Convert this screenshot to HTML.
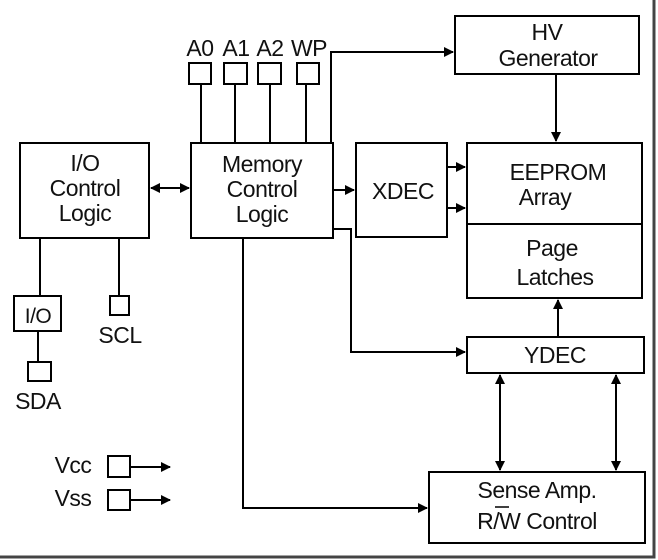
<!DOCTYPE html>
<html><head><style>body{margin:0;background:#fff}svg{display:block}text{font-family:"Liberation Sans",Arial,sans-serif;font-size:23px;fill:#111;text-anchor:middle;letter-spacing:-0.5px}</style></head>
<body>
<svg width="658" height="560" viewBox="0 0 658 560">
<defs><marker id="a" markerWidth="10" markerHeight="10" refX="9" refY="5" orient="auto-start-reverse" markerUnits="userSpaceOnUse"><path d="M0,0 L10,5 L0,10 z" fill="#000"/></marker></defs>
<g fill="none" stroke="#000" stroke-width="2">
<rect x="20" y="143" width="129" height="95"/>
<rect x="191" y="143" width="142" height="95"/>
<rect x="189" y="63" width="22" height="21"/>
<rect x="224" y="63" width="23" height="21"/>
<rect x="258" y="63" width="23" height="21"/>
<rect x="297" y="63" width="22" height="21"/>
<path d="M201 84V143M235 84V143M270 84V143M306 84V143"/>
<path d="M331 143V52H453" marker-end="url(#a)"/>
<rect x="455" y="16" width="184" height="58"/>
<path d="M556 74V141" marker-end="url(#a)"/>
<rect x="356" y="143" width="91" height="94"/>
<rect x="467" y="143" width="175" height="155"/>
<path d="M467 224H642"/>
<path d="M447 167H465" marker-end="url(#a)"/>
<path d="M447 208H465" marker-end="url(#a)"/>
<path d="M151 188H189" marker-start="url(#a)" marker-end="url(#a)"/>
<path d="M334 190H354" marker-end="url(#a)"/>
<path d="M333 229H351V352H465" marker-end="url(#a)"/>
<rect x="467" y="337" width="177" height="36"/>
<path d="M558 337V300" marker-end="url(#a)"/>
<path d="M500 375V470" marker-start="url(#a)" marker-end="url(#a)"/>
<path d="M616 375V470" marker-start="url(#a)" marker-end="url(#a)"/>
<rect x="429" y="472" width="216" height="71"/>
<path d="M243 238V508H427" marker-end="url(#a)"/>
<path d="M40 238V296M119 238V296"/>
<rect x="14" y="296" width="47" height="35"/>
<path d="M38 331V362"/>
<rect x="28" y="362" width="23" height="19"/>
<rect x="110" y="296" width="19" height="19"/>
<rect x="108" y="456" width="22" height="21"/>
<rect x="108" y="490" width="22" height="20"/>
<path d="M130 467H170" marker-end="url(#a)"/>
<path d="M130 500H170" marker-end="url(#a)"/>
</g>
<path d="M0 557H654V0" fill="none" stroke="#444" stroke-width="3"/>
<text x="200" y="56">A0</text><text x="236" y="56">A1</text><text x="270" y="56">A2</text><text x="309" y="56">WP</text>
<text x="85" y="171">I/O</text><text x="85" y="196">Control</text><text x="85" y="221">Logic</text>
<text x="262" y="172">Memory</text><text x="262" y="197">Control</text><text x="262" y="222">Logic</text>
<text x="547" y="40">HV</text><text x="548" y="66">Generator</text>
<text x="403" y="199">XDEC</text>
<text x="558" y="180">EEPROM</text><text x="545" y="205">Array</text>
<text x="552" y="256">Page</text><text x="555" y="285">Latches</text>
<text x="555" y="363">YDEC</text>
<text x="537" y="498">Sense Amp.</text><text x="537" y="529">R/W Control</text>
<path d="M495 507H509" stroke="#000" stroke-width="1.5"/>
<text x="38" y="323" style="font-size:21px">I/O</text>
<text x="38" y="409">SDA</text><text x="120" y="343">SCL</text>
<text x="73" y="473">Vcc</text><text x="73" y="506">Vss</text>
</svg>
</body></html>
